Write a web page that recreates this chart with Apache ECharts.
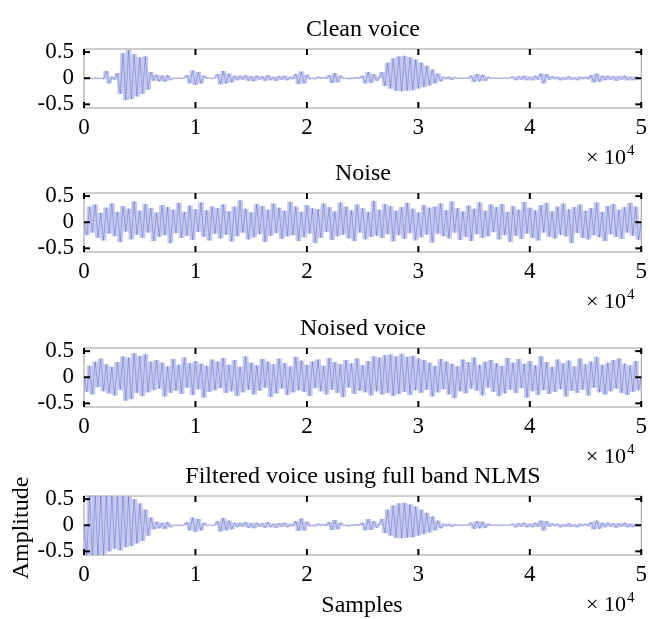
<!DOCTYPE html>
<html>
<head>
<meta charset="utf-8">
<script src="https://cdn.jsdelivr.net/npm/echarts@6/dist/echarts.min.js"></script>
<style>
    html, body {margin: 0; padding: 0; background: #fff;}
    #chart {width: 650px; height: 619px;}
</style>
</head>
<body>
<div id="chart"></div>
<script>
// one value every 250 samples, 0 .. 50000
const sampleStep = 250;
const xTicks = [0, 1, 2, 3, 4, 5];
const yTicks = [-0.5, 0, 0.5];
const plotTitles = ['Clean voice', 'Noise', 'Noised voice', 'Filtered voice using full band NLMS'];

const cleanVoice = [
    0.01, -0.01, 0.01, -0.01, 0.01, -0.01, 0.01, -0.02,
    0.14, -0.1,
    0.03, -0.03,
    0.1, -0.3, 0.48, -0.42, 0.54, -0.4, 0.46, -0.35, 0.4, -0.3, 0.42, -0.22, 0.12, -0.05,
    0.07, -0.06, 0.05, -0.07, 0.06, -0.04,
    0.01, -0.01, 0.01, -0.01, 0.01,
    0.06, -0.1, 0.15, -0.13, 0.12, -0.1, 0.05,
    -0.01, 0.01, -0.01, 0.01,
    0.08, -0.12, 0.14, -0.1, 0.09, -0.08, 0.05,
    -0.04, 0.05, -0.03, 0.06, -0.05, 0.04, -0.06, 0.05, -0.03, 0.04, -0.05, 0.06, -0.04, 0.03, -0.05, 0.04, -0.03, 0.05, -0.04, 0.03, -0.02,
    0.08, -0.11, 0.13, -0.1, 0.07,
    -0.02, 0.01, -0.02, 0.03, -0.01, 0.02, -0.01,
    0.06, -0.09, 0.1, -0.08, 0.05,
    -0.01, 0.01, -0.02, 0.01, -0.01, 0.02, -0.01,
    0.05, -0.1, 0.12, -0.09, 0.08, -0.05, 0.03,
    0.12, -0.15, 0.3, -0.2, 0.38, -0.24, 0.42, -0.25, 0.43, -0.24, 0.4, -0.23, 0.36, -0.2, 0.3, -0.17, 0.24, -0.14, 0.17, -0.1, 0.09, -0.06,
    0.03, -0.02, 0.03, -0.03, 0.02, -0.01, 0.01,
    -0.01, 0.01, -0.01,
    0.05, -0.07, 0.08, -0.06, 0.07, -0.05, 0.03,
    -0.01, 0.01, -0.01, 0.01, -0.01, 0.01, -0.01, 0.01,
    0.03, -0.04, 0.04, -0.03, 0.05, -0.04, 0.03, -0.04, 0.05, -0.03,
    0.09, -0.1, 0.08,
    -0.03, 0.04, -0.02, 0.03, -0.04, 0.02, -0.03, 0.04, -0.03, 0.02, -0.04, 0.03, -0.02, 0.03, -0.02,
    0.06, -0.08, 0.09, -0.07, 0.05,
    -0.04, 0.05, -0.03, 0.04, -0.05, 0.04, -0.03, 0.05, -0.04, 0.03, -0.04, 0.03, -0.02,
    0.0
];

const noise = [
    0.0, -0.25, 0.3, -0.2, 0.34, -0.3, 0.18, -0.35, 0.28, -0.22,
    0.36, -0.27, 0.2, -0.38, 0.31, -0.18, 0.26, -0.33, 0.4, -0.24,
    0.22, -0.3, 0.35, -0.2, 0.27, -0.36, 0.19, -0.28, 0.33, -0.25,
    0.29, -0.4, 0.24, -0.21, 0.37, -0.3, 0.2, -0.26, 0.32, -0.34,
    0.25, -0.19, 0.38, -0.28, 0.23, -0.35, 0.3, -0.22, 0.27, -0.31,
    0.34, -0.24, 0.21, -0.37, 0.3, -0.27, 0.42, -0.2, 0.26, -0.33,
    0.19, -0.29, 0.35, -0.23, 0.31, -0.38, 0.24, -0.26, 0.36, -0.21,
    0.28, -0.32, 0.22, -0.27, 0.39, -0.25, 0.3, -0.36, 0.2, -0.29,
    0.33, -0.22, 0.27, -0.4, 0.25, -0.3, 0.36, -0.19, 0.29, -0.34,
    0.21, -0.27, 0.38, -0.24, 0.3, -0.31, 0.23, -0.36, 0.34, -0.2,
    0.27, -0.33, 0.2, -0.28, 0.41, -0.26, 0.24, -0.3, 0.35, -0.23,
    0.31, -0.37, 0.22, -0.25, 0.29, -0.32, 0.37, -0.21, 0.26, -0.35,
    0.19, -0.29, 0.33, -0.24, 0.28, -0.39, 0.3, -0.22, 0.36, -0.27,
    0.23, -0.31, 0.4, -0.2, 0.27, -0.34, 0.21, -0.28, 0.32, -0.36,
    0.26, -0.23, 0.38, -0.3, 0.22, -0.27, 0.34, -0.19, 0.29, -0.33,
    0.35, -0.25, 0.2, -0.38, 0.31, -0.26, 0.24, -0.32, 0.39, -0.22,
    0.28, -0.3, 0.23, -0.35, 0.33, -0.2, 0.37, -0.28, 0.21, -0.31,
    0.3, -0.24, 0.36, -0.27, 0.25, -0.4, 0.29, -0.21, 0.34, -0.3,
    0.22, -0.33, 0.27, -0.25, 0.38, -0.29, 0.2, -0.36, 0.31, -0.23,
    0.35, -0.28, 0.24, -0.32, 0.29, -0.2, 0.37, -0.26, 0.3, -0.34,
    0.0
];

const noisedVoice = [
    0.0, -0.28, 0.22, -0.33, 0.3, -0.19, 0.36, -0.27, 0.25, -0.31,
    0.2, -0.35, 0.29, -0.24, 0.4, -0.45, 0.38, -0.42, 0.46, -0.3,
    0.41, -0.36, 0.44, -0.29, 0.3, -0.25, 0.33, -0.22, 0.28, -0.37,
    0.21, -0.3, 0.35, -0.26, 0.24, -0.32, 0.38, -0.2, 0.27, -0.34,
    0.31, -0.23, 0.26, -0.39, 0.22, -0.28, 0.34, -0.25, 0.3, -0.21,
    0.37, -0.3, 0.24, -0.27, 0.33, -0.36, 0.2, -0.29, 0.4, -0.24,
    0.28, -0.33, 0.23, -0.26, 0.35, -0.2, 0.3, -0.38, 0.25, -0.31,
    0.36, -0.22, 0.27, -0.34, 0.21, -0.29, 0.39, -0.25, 0.32, -0.28,
    0.24, -0.36, 0.3, -0.21, 0.34, -0.27, 0.22, -0.33, 0.37, -0.24,
    0.29, -0.3, 0.25, -0.38, 0.33, -0.2, 0.27, -0.32, 0.36, -0.26,
    0.23, -0.29, 0.31, -0.35, 0.4, -0.27, 0.38, -0.33, 0.42, -0.3,
    0.44, -0.36, 0.4, -0.32, 0.45, -0.28, 0.39, -0.34, 0.41, -0.25,
    0.36, -0.3, 0.33, -0.24, 0.28, -0.37, 0.22, -0.29, 0.35, -0.23,
    0.3, -0.33, 0.26, -0.4, 0.21, -0.27, 0.34, -0.31, 0.29, -0.22,
    0.38, -0.26, 0.24, -0.35, 0.3, -0.2, 0.33, -0.28, 0.27, -0.36,
    0.22, -0.31, 0.37, -0.24, 0.28, -0.3, 0.35, -0.21, 0.26, -0.39,
    0.31, -0.27, 0.23, -0.34, 0.4, -0.25, 0.29, -0.32, 0.2, -0.28,
    0.34, -0.23, 0.27, -0.37, 0.32, -0.26, 0.21, -0.3, 0.36, -0.24,
    0.25, -0.35, 0.3, -0.2, 0.39, -0.29, 0.24, -0.33, 0.28, -0.27,
    0.33, -0.22, 0.36, -0.3, 0.26, -0.34, 0.23, -0.28, 0.31, -0.25,
    0.0
];

const filteredVoice = [
    0.0, -0.6, 0.6, -0.62, 0.62, -0.6, 0.6, -0.62, 0.6,
    -0.5, 0.58, -0.45, 0.55, -0.48, 0.56, -0.42, 0.55,
    -0.4, 0.5, -0.35, 0.42, -0.3, 0.3, -0.2,
    0.15, -0.08,
    0.07, -0.06, 0.05, -0.07, 0.06, -0.04,
    0.01, -0.01, 0.01, -0.01, 0.01,
    0.06, -0.1, 0.15, -0.13, 0.12, -0.1, 0.05,
    -0.01, 0.01, -0.01, 0.01,
    0.08, -0.12, 0.14, -0.1, 0.09, -0.08, 0.05,
    -0.04, 0.05, -0.03, 0.06, -0.05, 0.04, -0.06, 0.05, -0.03, 0.04, -0.05, 0.06, -0.04, 0.03, -0.05, 0.04, -0.03, 0.05, -0.04, 0.03, -0.02,
    0.08, -0.11, 0.13, -0.1, 0.07,
    -0.02, 0.01, -0.02, 0.03, -0.01, 0.02, -0.01,
    0.06, -0.09, 0.1, -0.08, 0.05,
    -0.01, 0.01, -0.02, 0.01, -0.01, 0.02, -0.01,
    0.05, -0.1, 0.12, -0.09, 0.08, -0.05, 0.03,
    0.12, -0.15, 0.3, -0.2, 0.38, -0.24, 0.42, -0.25, 0.43, -0.24, 0.4, -0.23, 0.36, -0.2, 0.3, -0.17, 0.24, -0.14, 0.17, -0.1, 0.09, -0.06,
    0.03, -0.02, 0.03, -0.03, 0.02, -0.01, 0.01,
    -0.01, 0.01, -0.01,
    0.05, -0.07, 0.08, -0.06, 0.07, -0.05, 0.03,
    -0.01, 0.01, -0.01, 0.01, -0.01, 0.01, -0.01, 0.01,
    0.03, -0.04, 0.04, -0.03, 0.05, -0.04, 0.03, -0.04, 0.05, -0.03,
    0.09, -0.1, 0.08,
    -0.03, 0.04, -0.02, 0.03, -0.04, 0.02, -0.03, 0.04, -0.03, 0.02, -0.04, 0.03, -0.02, 0.03, -0.02,
    0.06, -0.08, 0.09, -0.07, 0.05,
    -0.04, 0.05, -0.03, 0.04, -0.05, 0.04, -0.03, 0.05, -0.04, 0.03, -0.04, 0.03, -0.02,
    0.0
];

const signals = [cleanVoice, noise, noisedVoice, filteredVoice];

const FONT = 'Liberation Serif';
const X_MAX = 50000;
const Y_MIN = -0.57, Y_MAX = 0.56;
const gridTops = [49, 193, 348, 496];
const gridH = 59;
const gridLeft = 84;
const gridRight = 8;

const grid = [], xAxis = [], yAxis = [], series = [], graphic = [];

// small black inward tick marks on all four sides (matlab style)
function tickMarks() {
    const out = [];
    xTicks.forEach(t => {
        out.push({value: [t * 10000, Y_MIN], symbolSize: [2, 6], symbolOffset: [0, -3]});
        out.push({value: [t * 10000, Y_MAX], symbolSize: [2, 6], symbolOffset: [0, 3]});
    });
    yTicks.forEach(t => {
        out.push({value: [0, t], symbolSize: [6, 2], symbolOffset: [3, 0]});
        out.push({value: [X_MAX, t], symbolSize: [6, 2], symbolOffset: [-3, 0]});
    });
    return out;
}

signals.forEach((sig, k) => {
    grid.push({
        left: gridLeft, right: gridRight, top: gridTops[k], height: gridH,
        show: true, borderColor: '#9a9a9a', borderWidth: 1
    });
    xAxis.push({
        type: 'value', gridIndex: k, min: 0, max: X_MAX, interval: 10000,
        axisLine: {show: false, onZero: false}, axisTick: {show: false}, splitLine: {show: false},
        axisLabel: {
            margin: 8, color: '#000', fontFamily: FONT, fontSize: 23,
            formatter: v => String(v / 10000)
        }
    });
    yAxis.push({
        type: 'value', gridIndex: k, min: Y_MIN, max: Y_MAX,
        axisLine: {show: false, onZero: false}, axisTick: {show: false}, splitLine: {show: false},
        axisLabel: {
            customValues: yTicks, margin: 10,
            color: '#000', fontFamily: FONT, fontSize: 23,
            formatter: v => String(v)
        }
    });
    const pts = sig.map((v, i) => [i * sampleStep, v]);
    // light band under the trace, like the densely drawn samples
    series.push({
        type: 'bar', xAxisIndex: k, yAxisIndex: k,
        data: pts, barWidth: 6, clip: true, animation: false,
        itemStyle: {color: 'rgba(180,186,232,0.75)'}
    });
    series.push({
        type: 'line', xAxisIndex: k, yAxisIndex: k,
        data: pts, showSymbol: false, clip: true, animation: false,
        lineStyle: {color: 'rgba(75,86,192,0.7)', width: 0.6}
    });
    series.push({
        type: 'scatter', xAxisIndex: k, yAxisIndex: k, z: 10,
        data: tickMarks(), symbol: 'rect', clip: false, silent: true, animation: false,
        itemStyle: {color: '#000', opacity: 1}
    });
    graphic.push({
        type: 'text', x: gridLeft + 279, y: gridTops[k] - 19,
        style: {text: plotTitles[k], font: '24px "Liberation Serif"', fill: '#000', align: 'center', verticalAlign: 'middle'}
    });
    graphic.push({
        type: 'text', x: 626, y: gridTops[k] + gridH + 50,
        style: {text: '× 10', font: '22px "Liberation Serif"', fill: '#000', align: 'right', verticalAlign: 'middle'}
    });
    graphic.push({
        type: 'text', x: 627, y: gridTops[k] + gridH + 43,
        style: {text: '4', font: '15px "Liberation Serif"', fill: '#000', align: 'left', verticalAlign: 'middle'}
    });
});

graphic.push({
    type: 'text', x: 22, y: 528, rotation: Math.PI / 2,
    style: {text: 'Amplitude', font: '24px "Liberation Serif"', fill: '#000', align: 'center', verticalAlign: 'middle'}
});
graphic.push({
    type: 'text', x: 362, y: 606,
    style: {text: 'Samples', font: '24px "Liberation Serif"', fill: '#000', align: 'center', verticalAlign: 'middle'}
});

const chart = echarts.init(document.getElementById('chart'), null, {renderer: 'canvas'});
chart.setOption({animation: false, grid, xAxis, yAxis, series, graphic});
</script>
</body>
</html>
